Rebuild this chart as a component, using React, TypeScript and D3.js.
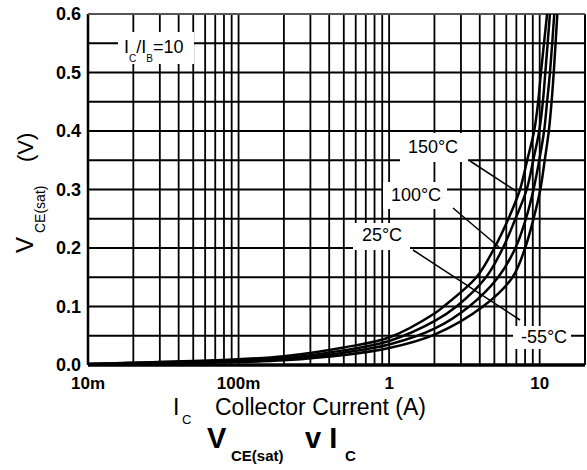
import React, { useRef, useEffect } from 'react';
import * as d3 from 'd3';

// Collector current (A) and VCE(sat) (V), one list per temperature
const curve150 = [[0.01, 0.002], [0.1, 0.010], [0.2, 0.015], [0.5, 0.030], [1, 0.047], [2, 0.088], [2.3, 0.1], [3.8, 0.15], [5.0, 0.2], [6.2, 0.25], [7.4, 0.3], [8.26, 0.35], [9.19, 0.4], [9.77, 0.45], [10.2, 0.5], [11.2, 0.6]];
const curve100 = [[0.01, 0.0015], [0.1, 0.008], [0.2, 0.012], [0.5, 0.025], [1, 0.041], [2, 0.075], [2.8, 0.1], [4.4, 0.15], [5.7, 0.2], [6.9, 0.25], [8.2, 0.3], [9.06, 0.35], [9.93, 0.4], [10.5, 0.45], [10.9, 0.5], [11.7, 0.6]];
const curve25 = [[0.01, 0.001], [0.1, 0.006], [0.2, 0.010], [0.5, 0.021], [1, 0.035], [2, 0.062], [3.4, 0.1], [5.3, 0.15], [6.9, 0.2], [8.1, 0.25], [9.1, 0.3], [9.93, 0.35], [10.7, 0.4], [11.2, 0.45], [11.7, 0.5], [12.5, 0.6]];
const curveM55 = [[0.01, 0.001], [0.1, 0.005], [0.2, 0.008], [0.5, 0.017], [1, 0.029], [2, 0.052], [4.2, 0.1], [6.6, 0.15], [8.0, 0.2], [9.1, 0.25], [10.1, 0.3], [10.8, 0.35], [11.5, 0.4], [12.0, 0.45], [12.4, 0.5], [13.1, 0.6]];

const xTickValues = [0.01, 0.1, 1, 10];
const xTickLabels = ['10m', '100m', '1', '10'];
const yTickValues = [0, 0.1, 0.2, 0.3, 0.4, 0.5, 0.6];

const tempLabels = ['150°C', '100°C', '25°C', '-55°C'];

const FONT = "Arial, 'Liberation Sans', sans-serif";

const App = () => {
  const svgRef = useRef(null);

  useEffect(() => {
    const svg = d3.select(svgRef.current);
    svg.selectAll('*').remove();

    const x = d3.scaleLog().domain([0.01, 20]).range([88, 585]);
    const y = d3.scaleLinear().domain([0, 0.6]).range([365, 14]);

    svg.append('rect').attr('width', 587).attr('height', 470).attr('fill', '#fff');

    // grid
    const vLines = [];
    for (let dec = 0.01; dec < 20; dec *= 10) {
      for (let k = 1; k <= 9; k++) {
        const v = +(dec * k).toPrecision(3);
        if (v <= 20) vLines.push(v);
      }
    }
    vLines.push(20);
    const grid = svg.append('g');
    grid.selectAll('line.v')
      .data(vLines)
      .enter().append('line')
      .attr('x1', d => x(d)).attr('x2', d => x(d))
      .attr('y1', y(0.6)).attr('y2', y(0))
      .attr('stroke', '#000').attr('stroke-width', 1.8);
    grid.selectAll('line.h')
      .data(d3.range(0, 13).map(i => i * 0.05))
      .enter().append('line')
      .attr('x1', x(0.01)).attr('x2', x(20))
      .attr('y1', d => y(d)).attr('y2', d => y(d))
      .attr('stroke', '#000').attr('stroke-width', 1.8);
    // border
    svg.append('line').attr('x1', x(0.01)).attr('x2', x(20)).attr('y1', y(0)).attr('y2', y(0))
      .attr('stroke', '#000').attr('stroke-width', 3.5);
    svg.append('line').attr('x1', x(0.01)).attr('x2', x(0.01)).attr('y1', y(0.6)).attr('y2', y(0))
      .attr('stroke', '#000').attr('stroke-width', 2.5);
    svg.append('line').attr('x1', x(0.01)).attr('x2', x(20)).attr('y1', y(0.6)).attr('y2', y(0.6))
      .attr('stroke', '#555').attr('stroke-width', 2);

    // curves
    const line = d3.line()
      .x(d => x(d[0]))
      .y(d => y(d[1]))
      .curve(d3.curveCatmullRom.alpha(0.5));
    [curve150, curve100, curve25, curveM55].forEach(c => {
      svg.append('path')
        .attr('d', line(c))
        .attr('fill', 'none')
        .attr('stroke', '#000')
        .attr('stroke-width', 2.5);
    });

    // leader lines
    const leaders = [[470, 161, 516, 191], [453, 208, 499, 247], [413, 250, 520, 320]];
    leaders.forEach(l => {
      svg.append('line')
        .attr('x1', l[0]).attr('y1', l[1]).attr('x2', l[2]).attr('y2', l[3])
        .attr('stroke', '#000').attr('stroke-width', 1.5);
    });

    // label boxes
    const boxes = [[400, 133, 68, 29], [383, 182, 64, 27], [353, 223, 57, 27], [513, 326, 58, 23]];
    const centres = [[433, 153], [416, 201], [382, 241], [544, 343]];
    tempLabels.forEach((t, i) => {
      const b = boxes[i];
      svg.append('rect').attr('x', b[0]).attr('y', b[1]).attr('width', b[2]).attr('height', b[3]).attr('fill', '#fff');
      svg.append('text')
        .attr('x', centres[i][0]).attr('y', centres[i][1])
        .attr('text-anchor', 'middle')
        .attr('font-family', FONT).attr('font-size', 18)
        .text(t);
    });

    // IC/IB box
    svg.append('rect').attr('x', 118).attr('y', 32).attr('width', 76).attr('height', 32).attr('fill', '#fff');
    const ratio = svg.append('text').attr('x', 124).attr('y', 53).attr('font-family', FONT).attr('font-size', 18);
    ratio.append('tspan').text('I');
    ratio.append('tspan').attr('dy', 9).attr('font-size', 10).text('C');
    ratio.append('tspan').attr('dy', -9).text('/I');
    ratio.append('tspan').attr('dy', 9).attr('font-size', 10).text('B');
    ratio.append('tspan').attr('dy', -9).text('=10');

    // y tick labels
    svg.selectAll('text.ytick')
      .data(yTickValues)
      .enter().append('text')
      .attr('x', 81).attr('y', d => y(d) + 6)
      .attr('text-anchor', 'end')
      .attr('font-family', FONT).attr('font-size', 18).attr('font-weight', 'bold')
      .text(d => d3.format('.1f')(d));

    // x tick labels
    svg.selectAll('text.xtick')
      .data(xTickValues)
      .enter().append('text')
      .attr('x', d => x(d)).attr('y', 389)
      .attr('text-anchor', 'middle')
      .attr('font-family', FONT).attr('font-size', 17).attr('font-weight', 'bold')
      .text((d, i) => xTickLabels[i]);

    // x axis title
    svg.append('text').attr('x', 173).attr('y', 415)
      .attr('font-family', FONT).attr('font-size', 23).text('I');
    svg.append('text').attr('x', 182).attr('y', 424)
      .attr('font-family', FONT).attr('font-size', 13).text('C');
    svg.append('text').attr('x', 215).attr('y', 415)
      .attr('font-family', FONT).attr('font-size', 23).text('Collector Current (A)');

    // y axis title
    svg.append('text').attr('transform', 'translate(33,253) rotate(-90)')
      .attr('font-family', FONT).attr('font-size', 24).text('V');
    svg.append('text').attr('transform', 'translate(45,233) rotate(-90)')
      .attr('font-family', FONT).attr('font-size', 14).text('CE(sat)');
    svg.append('text').attr('transform', 'translate(33,162) rotate(-90)')
      .attr('font-family', FONT).attr('font-size', 22).text('(V)');

    // chart title
    svg.append('text').attr('x', 207).attr('y', 448)
      .attr('font-family', FONT).attr('font-size', 29).attr('font-weight', 'bold').text('V');
    svg.append('text').attr('x', 231).attr('y', 461)
      .attr('font-family', FONT).attr('font-size', 15).attr('font-weight', 'bold').text('CE(sat)');
    svg.append('text').attr('x', 305).attr('y', 448)
      .attr('font-family', FONT).attr('font-size', 29).attr('font-weight', 'bold').text('v I');
    svg.append('text').attr('x', 345).attr('y', 461)
      .attr('font-family', FONT).attr('font-size', 15).attr('font-weight', 'bold').text('C');
  }, []);

  return (
    <svg ref={svgRef} width={587} height={470} style={{ position: 'absolute', left: 0, top: 0 }}></svg>
  );
};

export default App;
